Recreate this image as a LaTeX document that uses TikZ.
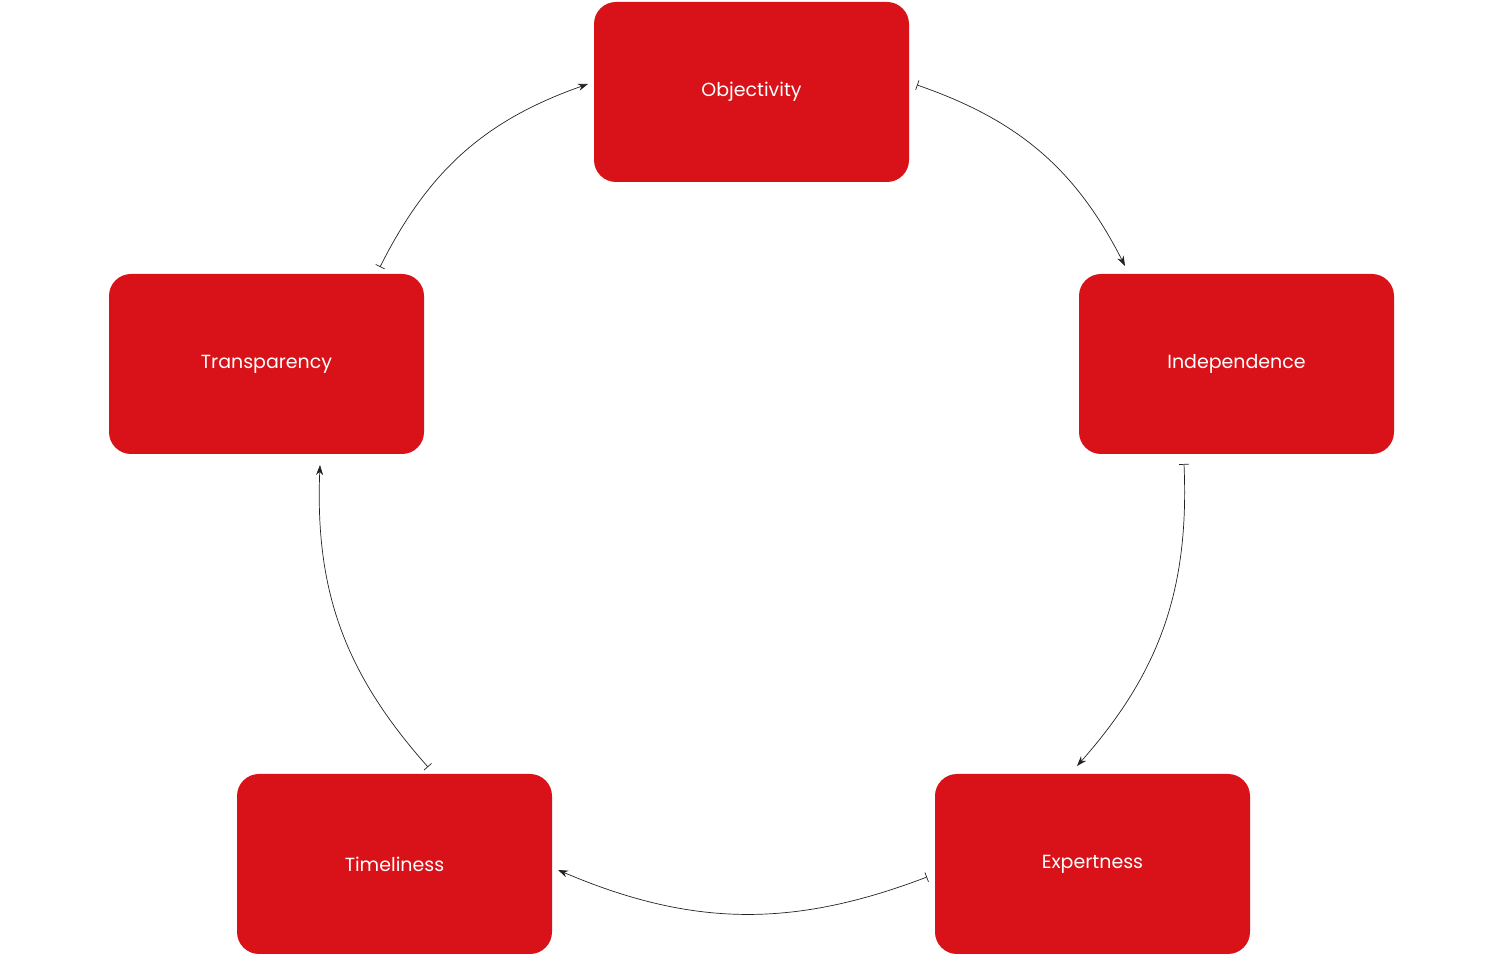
\documentclass[tikz,border=0pt]{standalone}
\usepackage{fontspec}
\setmainfont{Poppins}
\usetikzlibrary{arrows.meta}
\definecolor{boxred}{HTML}{D91118}
\definecolor{lin}{HTML}{222222}
\begin{document}
\begin{tikzpicture}[x=1pt,y=1pt,
 box/.style={fill=boxred,rounded corners=22pt,minimum width=315pt,minimum height=180pt,inner sep=0pt,text=white,font=\fontsize{19}{22}\selectfont},
 conn/.style={draw=lin,line width=0.7pt,{Bar[width=10pt]}-{Stealth[length=10pt,width=7pt]}}]
\useasboundingbox (0,0) rectangle (1500,956);
\node[box] (obj) at (751.5,864) {Objectivity};
\node[box] (ind) at (1236.5,592) {Independence};
\node[box] (tra) at (266.5,592) {Transparency};
\node[box] (tim) at (394.5,92) {Timeliness};
\node[box] (exp) at (1092.5,92) {Expertness};
\coordinate (a1) at (917,871); \coordinate (a2) at (1125,690);
\coordinate (b1) at (1184,492); \coordinate (b2) at (1077,190);
\coordinate (c1) at (927,79); \coordinate (c2) at (558,86);
\coordinate (d1) at (428,189); \coordinate (d2) at (320,491);
\coordinate (e1) at (380,689); \coordinate (e2) at (588,872);
\draw[conn] (a1) to[bend left=22] (a2);
\draw[conn] (b1) to[bend left=22] (b2);
\draw[conn] (c1) to[bend left=22] (c2);
\draw[conn] (d1) to[bend left=22] (d2);
\draw[conn] (e1) to[bend left=22] (e2);
\end{tikzpicture}
\end{document}
